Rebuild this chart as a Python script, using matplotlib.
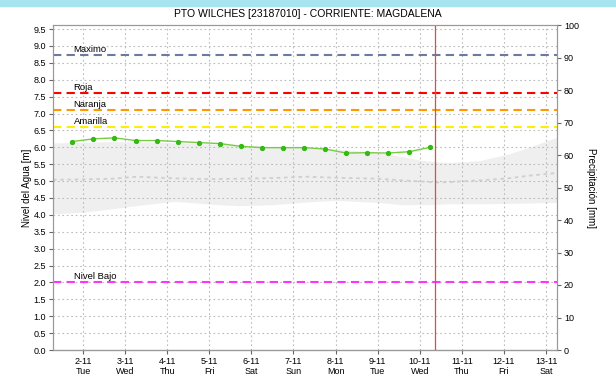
import numpy as np
import matplotlib
matplotlib.use('Agg')
import matplotlib.pyplot as plt
from matplotlib.patches import Rectangle

# observed water level (day of month, m)
obs_day = [1.75, 2.25, 2.75, 3.25, 3.75, 4.25, 4.75, 5.25, 5.75,
           6.25, 6.75, 7.25, 7.75, 8.25, 8.75, 9.25, 9.75, 10.25]
obs_level = [6.17, 6.25, 6.28, 6.20, 6.20, 6.17, 6.14, 6.11, 6.03,
             5.99, 5.99, 5.99, 5.95, 5.83, 5.84, 5.83, 5.87, 6.00]

# forecast envelope (grey band) and its mean (dotted)
band_day = [1.29, 2.0, 2.7, 3.3, 3.8, 4.2, 5.0, 5.7, 6.5, 7.3, 8.0, 9.0,
            9.6, 10.0, 10.4, 10.7, 11.4, 12.1, 12.6, 13.26]
band_hi = [6.13, 6.15, 6.17, 6.16, 6.15, 6.13, 6.10, 6.06, 6.02, 5.99, 5.95, 5.85,
           5.72, 5.62, 5.57, 5.55, 5.60, 5.80, 6.00, 6.30]
band_lo = [4.03, 4.08, 4.18, 4.28, 4.35, 4.40, 4.32, 4.27, 4.30, 4.38, 4.43, 4.37,
           4.30, 4.30, 4.31, 4.33, 4.33, 4.34, 4.35, 4.37]
band_mid = [5.04, 5.05, 5.07, 5.13, 5.10, 5.08, 5.06, 5.07, 5.09, 5.13, 5.10, 5.07,
            5.02, 4.99, 4.96, 4.97, 5.02, 5.08, 5.16, 5.24]

# alert thresholds
thr_names = ['Maximo', 'Roja', 'Naranja', 'Amarilla', 'Nivel Bajo']
thr_values = [8.74, 7.60, 7.10, 6.60, 2.01]
thr_colors = ['#6a7aa0', '#ff0000', '#ff9900', '#ffee00', '#ff33ff']

now_day = 10.36
tick_days = [2, 3, 4, 5, 6, 7, 8, 9, 10, 11, 12, 13]
tick_names = ['Tue', 'Wed', 'Thu', 'Fri', 'Sat', 'Sun', 'Mon', 'Tue', 'Wed', 'Thu', 'Fri', 'Sat']

plt.rcParams['font.family'] = ['Liberation Sans', 'DejaVu Sans']
fig = plt.figure(figsize=(6.16, 3.75), dpi=100)
fig.patches.append(Rectangle((0, 0.985), 1, 0.015, transform=fig.transFigure,
                             color='#a8e4f0', zorder=0))
ax = fig.add_axes([53 / 616, 25 / 375, 504 / 616, 325 / 375])

ax.fill_between(band_day, band_lo, band_hi, color='#efefef', lw=0, zorder=1)
ax.plot(band_day, band_mid, color='#cfcfcf', ls=(0, (2, 2)), lw=1.3, zorder=2)

for name, v, c in zip(thr_names, thr_values, thr_colors):
    ax.axhline(v, color=c, ls=(0, (4, 2.5)), lw=1.5, zorder=3)
    ax.text(1.78, v + 0.03, name, fontsize=6.8, ha='left', va='bottom', zorder=5)

ax.plot(obs_day, obs_level, color='#77cc44', lw=1.0, marker='o', ms=2.8,
        mfc='#33bb11', mec='#33bb11', zorder=4)
ax.axvline(now_day, color='#ee4444', lw=0.9, zorder=4)

ax.set_xlim(1.29, 13.26)
ax.set_ylim(0, 9.62)
ax.set_yticks(np.arange(0, 9.51, 0.5))
ax.set_yticklabels([f'{v:.1f}' for v in np.arange(0, 9.51, 0.5)])
ax.set_xticks(tick_days)
ax.set_xticklabels([f'{d}-11\n{n}' for d, n in zip(tick_days, tick_names)])
ax.grid(True, color='#bbbbbb', ls=(0, (1.5, 2.5)), lw=0.8, zorder=0)
ax.tick_params(labelsize=6.5, length=3, color='#666666', pad=2)
ax.set_ylabel('Nivel del Agua [m]', fontsize=7, labelpad=1)
for s in ax.spines.values():
    s.set_color('#999999')
ax.spines['bottom'].set_color('#555555')
ax.spines['bottom'].set_linestyle((0, (1, 0.5)))

ax2 = ax.twinx()
ax2.set_ylim(0, 100)
ax2.set_yticks(range(0, 101, 10))
ax2.tick_params(labelsize=6.5, length=3, color='#666666', pad=2)
ax2.set_ylabel('Precipitación [mm]', fontsize=7, rotation=270, labelpad=12)
for s in ax2.spines.values():
    s.set_color('#999999')

fig.text(0.5, 1 - 14 / 375, 'PTO WILCHES [23187010] - CORRIENTE: MAGDALENA',
         ha='center', va='center', fontsize=7.5)

fig.savefig('out.png', dpi=100)
